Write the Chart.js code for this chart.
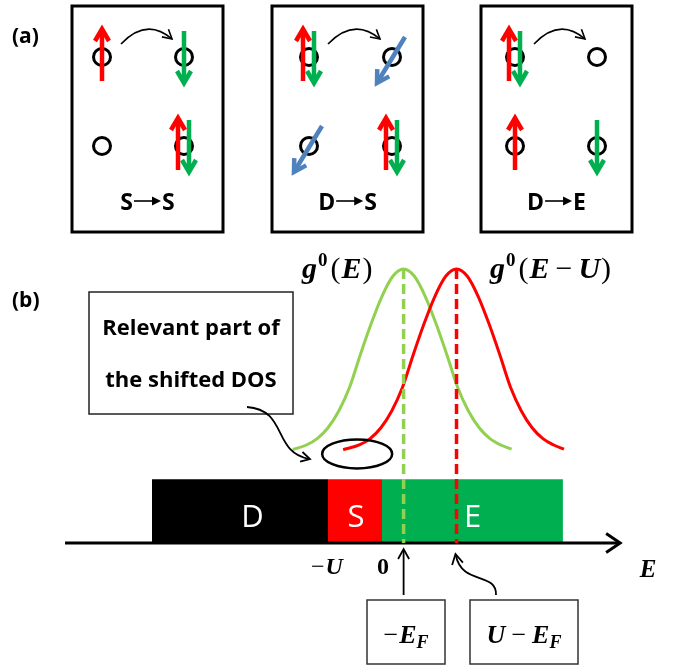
<!DOCTYPE html>
<html>
<head>
<meta charset="utf-8">
<script src="https://cdn.jsdelivr.net/npm/chart.js@4/dist/chart.umd.min.js"></script>
<style>
  html, body { margin: 0; padding: 0; background: #ffffff; }
  #c { display: block; }
</style>
</head>
<body>
<canvas id="c" width="674" height="668"></canvas>
<script>
// ---------------- panel (a): hopping processes ----------------
const processLabels = [['S', 'S'], ['D', 'S'], ['D', 'E']];
const boxLeft = [72, 272, 481];
const siteColumns = [[102, 184], [309, 392], [515, 597]];
const siteRows = [57, 146];
// occupation of each site: top-left, top-right, bottom-left, bottom-right
const siteSpins = [
  ['up', 'down', '', 'pair'],
  ['pair', 'tilted', 'tilted', 'pair'],
  ['pair', '', 'up', 'down']
];

// ---------------- panel (b): energy axis in units of U ----------------
const bandNames = ['D', 'S', 'E'];
const bandFrom = [-4.26, -1, 0];
const bandTo = [-1, 0, 3.35];
const bandLabelAt = [-2.4, -0.48, 1.68];
const energyTicks = [-1, 0];
const energyTickLabels = ['−U', '0'];
const fermiMarks = [0.40, 1.38];           // −E_F and U − E_F
const dosEnergy = [-1.65, -1.40, -1.20, -1.00, -0.80, -0.60, -0.40, -0.20, 0.00, 0.20, 0.40,
                   0.60, 0.80, 1.00, 1.20, 1.40, 1.60, 1.80, 2.00, 2.20, 2.40];
const dosValue  = [0.008, 0.033, 0.068, 0.128, 0.22, 0.35, 0.53, 0.70, 0.85, 0.96, 1.00,
                   0.96, 0.85, 0.70, 0.53, 0.35, 0.22, 0.128, 0.068, 0.033, 0.010];
const shiftedEnergy = [-0.72, -0.42, -0.22, -0.02, 0.18, 0.38, 0.58, 0.78, 0.98, 1.18, 1.38,
                       1.58, 1.78, 1.98, 2.18, 2.38, 2.58, 2.78, 2.98, 3.18, 3.37];
const shiftedValue  = [0.007, 0.033, 0.068, 0.128, 0.22, 0.35, 0.53, 0.70, 0.85, 0.96, 1.00,
                       0.96, 0.85, 0.70, 0.53, 0.35, 0.22, 0.128, 0.068, 0.033, 0.010];

// ---------------- layout and style ----------------
const W = 674, H = 668;
const ORIGIN_PX = 382, UNIT_PX = 54;       // where E = 0 sits, and the width of U
const BASE_PX = 451, PEAK_PX = 182;        // g = 0 line, and height of a unit peak
const BAR_TOP = -0.155, AXIS_G = -0.505, AXIS_FROM = -5.87, AXIS_TO = 4.41;
const BOX_TOP = 6, BOX_W = 151, BOX_H = 226;
const RED = '#ff0000', GREEN = '#00b050', LIGHT_GREEN = '#92d050', BLUE = '#4f81bd';
const bandColors = ['#000000', RED, GREEN];
const SANS = '"Open Sans", Lato, sans-serif';
const SERIF = '"Liberation Serif", "DejaVu Serif", serif';

const pts = (xs, ys) => xs.map((v, i) => ({ x: v, y: ys[i] }));
const datasets = [];

// energy bands, filled down to the axis
bandNames.forEach((name, i) => {
  datasets.push({
    type: 'line', label: name, xAxisID: 'e', yAxisID: 'g', order: 20,
    data: [{ x: bandFrom[i], y: BAR_TOP }, { x: bandTo[i], y: BAR_TOP }],
    borderWidth: 0, borderColor: bandColors[i], backgroundColor: bandColors[i],
    pointRadius: 0, fill: { value: AXIS_G }
  });
});
// energy axis
datasets.push({
  type: 'line', label: 'axis', xAxisID: 'e', yAxisID: 'g', order: 12,
  data: [{ x: AXIS_FROM, y: AXIS_G }, { x: AXIS_TO, y: AXIS_G }],
  borderColor: '#000', borderWidth: 3, pointRadius: 0, fill: false
});
// density of states curves
datasets.push({
  type: 'line', label: 'g0(E)', xAxisID: 'e', yAxisID: 'g', order: 14,
  data: pts(dosEnergy, dosValue), borderColor: LIGHT_GREEN, borderWidth: 3,
  pointRadius: 0, cubicInterpolationMode: 'monotone', fill: false
});
datasets.push({
  type: 'line', label: 'g0(E-U)', xAxisID: 'e', yAxisID: 'g', order: 13,
  data: pts(shiftedEnergy, shiftedValue), borderColor: RED, borderWidth: 3,
  pointRadius: 0, cubicInterpolationMode: 'monotone', fill: false
});
// dashed lines from each peak down to the axis
fermiMarks.forEach((e, i) => {
  datasets.push({
    type: 'line', label: 'mark' + i, xAxisID: 'e', yAxisID: 'g', order: 11,
    data: [{ x: e, y: 1 }, { x: e, y: AXIS_G }],
    borderColor: i === 0 ? LIGHT_GREEN : RED, borderWidth: 3.5, borderDash: [10, 5],
    pointRadius: 0, fill: false
  });
});

// panel (a): sites as open circles
const sitePoints = [];
siteColumns.forEach(cols => siteRows.forEach(r => cols.forEach(c => sitePoints.push({ x: c, y: r }))));
datasets.push({
  type: 'scatter', label: 'sites', xAxisID: 'x', yAxisID: 'y', order: 6,
  data: sitePoints, pointStyle: 'circle', pointRadius: 8.5, pointBorderWidth: 3,
  pointBorderColor: '#000', pointBackgroundColor: 'rgba(0,0,0,0)'
});

// spin arrows: [colour, from, tip]
const spinArrows = [];
siteSpins.forEach((box, b) => {
  box.forEach((kind, k) => {
    const cx = siteColumns[b][k % 2], cy = siteRows[Math.floor(k / 2)];
    if (kind === 'up' || kind === 'pair') {
      const dx = kind === 'pair' ? -6 : 0;
      spinArrows.push([RED, [cx + dx, cy + 24], [cx + dx, cy - 28]]);
    }
    if (kind === 'down' || kind === 'pair') {
      const dx = kind === 'pair' ? 5 : 0;
      spinArrows.push([GREEN, [cx + dx, cy - 26], [cx + dx, cy + 26]]);
    }
    if (kind === 'tilted') spinArrows.push([BLUE, [cx + 13, cy - 20], [cx - 15, cy + 26]]);
  });
});
spinArrows.forEach(([col, a, t], i) => {
  const len = Math.hypot(t[0] - a[0], t[1] - a[1]);
  const ux = (t[0] - a[0]) / len, uy = (t[1] - a[1]) / len;
  datasets.push({
    type: 'line', label: 'spin' + i, xAxisID: 'x', yAxisID: 'y', order: 4,
    data: [{ x: a[0], y: a[1] }, { x: t[0] - ux * 2, y: t[1] - uy * 2 }],
    borderColor: col, borderWidth: 4.5, pointRadius: 0, fill: false
  });
});

// ---------------- drawing helpers ----------------
function chevron(ctx, tx, ty, ux, uy, len, half, lw, col) {
  ctx.save();
  ctx.strokeStyle = col; ctx.lineWidth = lw; ctx.lineJoin = 'miter'; ctx.lineCap = 'butt';
  ctx.beginPath();
  ctx.moveTo(tx - ux * len - uy * half, ty - uy * len + ux * half);
  ctx.lineTo(tx, ty);
  ctx.lineTo(tx - ux * len + uy * half, ty - uy * len - ux * half);
  ctx.stroke();
  ctx.restore();
}
function runs(ctx, parts, x, y, align) {
  let w = 0;
  parts.forEach(p => { ctx.font = p.f; p.w = ctx.measureText(p.t).width + (p.g || 0); w += p.w; });
  let cx = align === 'center' ? x - w / 2 : x;
  parts.forEach(p => { ctx.font = p.f; ctx.fillText(p.t, cx, y + (p.dy || 0)); cx += p.w; });
}
const bi = s => `italic bold ${s}px ${SERIF}`;
const bu = s => `bold ${s}px ${SERIF}`;
const up = s => `${s}px ${SERIF}`;

const diagram = {
  id: 'diagram',
  beforeDatasetsDraw(chart) {
    const { ctx, scales: { x, y } } = chart;
    ctx.save();
    ctx.strokeStyle = '#000'; ctx.lineWidth = 3;
    boxLeft.forEach(l => ctx.strokeRect(x.getPixelForValue(l), y.getPixelForValue(BOX_TOP), BOX_W, BOX_H));
    ctx.restore();
  },
  afterDatasetsDraw(chart) {
    const { ctx, scales: { x, y, e, g } } = chart;
    const X = v => x.getPixelForValue(v), Y = v => y.getPixelForValue(v);
    ctx.save();
    ctx.fillStyle = '#000';
    ctx.textBaseline = 'alphabetic';

    // spin arrowheads
    spinArrows.forEach(([col, a, t]) => {
      const len = Math.hypot(t[0] - a[0], t[1] - a[1]);
      chevron(ctx, X(t[0]), Y(t[1]), (t[0] - a[0]) / len, (t[1] - a[1]) / len, 12, 7, 4.5, col);
    });

    // hop arrows between the upper sites
    siteColumns.forEach(cols => {
      const r = siteRows[0];
      const sx = cols[0] + 19, sy = r - 13, ex = cols[1] - 12, ey = r - 18;
      const qx = (sx + ex) / 2, qy = r - 40;
      ctx.strokeStyle = '#000'; ctx.lineWidth = 1.6;
      ctx.beginPath(); ctx.moveTo(X(sx), Y(sy)); ctx.quadraticCurveTo(X(qx), Y(qy), X(ex), Y(ey)); ctx.stroke();
      const l = Math.hypot(ex - qx, ey - qy);
      chevron(ctx, X(ex), Y(ey), (ex - qx) / l, (ey - qy) / l, 9, 5, 1.6, '#000');
    });

    // process captions "X → Y"
    processLabels.forEach(([from, to], i) => {
      const cx = X(boxLeft[i] + BOX_W / 2), base = Y(210);
      ctx.font = `bold 23px ${SANS}`;
      const w1 = ctx.measureText(from).width, w2 = ctx.measureText(to).width;
      const aw = 27, gap = 1;
      const total = w1 + aw + w2 + gap * 2;
      let px = cx - total / 2;
      ctx.fillText(from, px, base);
      px += w1 + gap;
      ctx.strokeStyle = '#000'; ctx.lineWidth = 1.6;
      ctx.beginPath(); ctx.moveTo(px, base - 9); ctx.lineTo(px + aw - 7, base - 9); ctx.stroke();
      ctx.beginPath(); ctx.moveTo(px + aw, base - 9); ctx.lineTo(px + aw - 9, base - 13.5); ctx.lineTo(px + aw - 9, base - 4.5); ctx.closePath(); ctx.fill();
      px += aw + gap;
      ctx.fillText(to, px, base);
    });

    // panel tags
    ctx.font = `bold 21px ${SANS}`;
    ctx.textAlign = 'left';
    ctx.fillText('(a)', X(12), Y(43));
    ctx.fillText('(b)', X(12), Y(307));

    // band names
    ctx.fillStyle = '#fff';
    ctx.font = `31px ${SANS}`;
    ctx.textAlign = 'center';
    bandNames.forEach((n, i) => ctx.fillText(n, e.getPixelForValue(bandLabelAt[i]), Y(527)));
    ctx.fillStyle = '#000';

    // axis arrowhead
    const ax = e.getPixelForValue(AXIS_TO), ay = g.getPixelForValue(AXIS_G);
    chevron(ctx, ax, ay, 1, 0, 14, 9.5, 3, '#000');

    // tick labels and axis title
    ctx.textAlign = 'left';
    energyTickLabels.forEach((t, i) => {
      const px = e.getPixelForValue(energyTicks[i]);
      if (t === '0') runs(ctx, [{ t: '0', f: bu(24) }], px + 1, Y(574), 'center');
      else runs(ctx, [{ t: '−', f: up(24), g: 1 }, { t: 'U', f: bi(24) }], px - 1, Y(574), 'center');
    });
    runs(ctx, [{ t: 'E', f: bi(25) }], X(648), Y(577), 'center');

    // curve labels
    runs(ctx, [{ t: 'g', f: bi(30), g: 1 }, { t: '0', f: bu(19), dy: -12, g: 3 },
               { t: '(', f: up(30), g: 1 }, { t: 'E', f: bi(30), g: 1 }, { t: ')', f: up(30) }],
         X(302), Y(278), 'left');
    runs(ctx, [{ t: 'g', f: bi(30), g: 1 }, { t: '0', f: bu(19), dy: -12, g: 3 },
               { t: '(', f: up(30), g: 1 }, { t: 'E', f: bi(30), g: 6 }, { t: '−', f: up(30), g: 6 },
               { t: 'U', f: bi(30), g: 1 }, { t: ')', f: up(30) }],
         X(490), Y(278), 'left');

    // ellipse around the relevant part of the shifted curve
    ctx.strokeStyle = '#000'; ctx.lineWidth = 2.5;
    ctx.beginPath();
    ctx.ellipse(e.getPixelForValue(-0.46), g.getPixelForValue(-0.016), 35, 14.5, 0, 0, Math.PI * 2);
    ctx.stroke();

    // note box and its pointer
    ctx.lineWidth = 1.5; ctx.strokeStyle = '#222';
    ctx.strokeRect(X(89), Y(292), 204, 122);
    ctx.font = `bold 22px ${SANS}`; ctx.textAlign = 'center';
    ctx.fillText('Relevant part of', X(191), Y(335));
    ctx.fillText('the shifted DOS', X(191), Y(387));
    ctx.strokeStyle = '#000'; ctx.lineWidth = 1.8;
    ctx.beginPath(); ctx.moveTo(X(247), Y(407));
    ctx.bezierCurveTo(X(288), Y(410), X(272), Y(452), X(309), Y(459)); ctx.stroke();
    chevron(ctx, X(310), Y(459), 0.97, 0.24, 9, 5, 1.8, '#000');

    // markers below the axis
    const m0 = e.getPixelForValue(fermiMarks[0]);
    ctx.beginPath(); ctx.moveTo(m0, Y(595)); ctx.lineTo(m0, Y(550)); ctx.stroke();
    chevron(ctx, m0, Y(549), 0, -1, 10, 5.5, 1.8, '#000');
    ctx.beginPath(); ctx.moveTo(X(496), Y(595));
    ctx.bezierCurveTo(X(497), Y(572), X(462), Y(585), X(456), Y(556)); ctx.stroke();
    chevron(ctx, X(455.5), Y(554), -0.2, -0.98, 10, 5.5, 1.8, '#000');

    ctx.lineWidth = 1.5; ctx.strokeStyle = '#333';
    ctx.strokeRect(X(367), Y(600), 78, 64);
    ctx.strokeRect(X(470), Y(600), 108, 64);
    ctx.textAlign = 'left';
    runs(ctx, [{ t: '−', f: up(26), g: 1 }, { t: 'E', f: bi(26) }, { t: 'F', f: bi(18), dy: 5 }], X(406), Y(643), 'center');
    runs(ctx, [{ t: 'U', f: bi(26), g: 6 }, { t: '−', f: up(26), g: 6 }, { t: 'E', f: bi(26) },
               { t: 'F', f: bi(18), dy: 5 }], X(524), Y(643), 'center');
    ctx.restore();
  }
};

new Chart(document.getElementById('c'), {
  type: 'scatter',
  data: { datasets },
  options: {
    responsive: false,
    animation: false,
    events: [],
    layout: { padding: 0, autoPadding: false },
    plugins: { legend: { display: false }, tooltip: { enabled: false } },
    scales: {
      x: { type: 'linear', min: 0, max: W, display: false },
      y: { type: 'linear', min: 0, max: H, reverse: true, display: false },
      e: { type: 'linear', axis: 'x', position: 'bottom', min: -ORIGIN_PX / UNIT_PX, max: (W - ORIGIN_PX) / UNIT_PX, display: false },
      g: { type: 'linear', axis: 'y', position: 'left', min: (BASE_PX - H) / PEAK_PX, max: BASE_PX / PEAK_PX, display: false }
    }
  },
  plugins: [diagram]
});
</script>
</body>
</html>
